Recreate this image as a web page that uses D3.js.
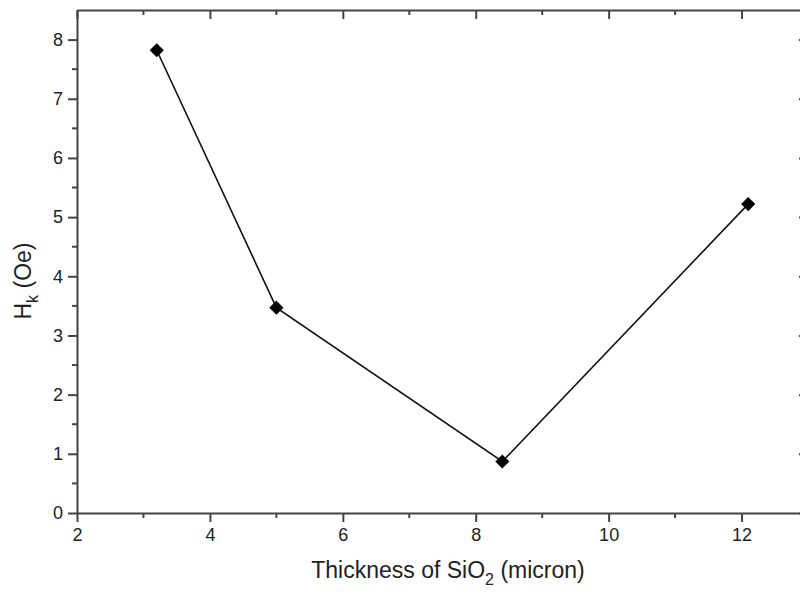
<!doctype html>
<html>
<head>
<meta charset="utf-8">
<script src="https://d3js.org/d3.v7.min.js"></script>
<style>
  body { margin: 0; background: #fff; }
  text { font-family: "Liberation Sans", Arial, sans-serif; fill: #222; }
  .axis path.domain { stroke: #444; stroke-width: 2; }
  .axis line { stroke: #444; stroke-width: 2; }
</style>
</head>
<body>
<svg width="800" height="592"></svg>
<script>
// data
var thickness = [3.2, 5.0, 8.4, 12.1];
var hk = [7.82, 3.47, 0.87, 5.22];
var xTicks = [2, 4, 6, 8, 10, 12];
var yTicks = [0, 1, 2, 3, 4, 5, 6, 7, 8];

var svg = d3.select('svg');
var mLeft = 77, mRight = 808, mTop = 10, mBottom = 513;

var x = d3.scaleLinear().domain([2, 13]).range([mLeft, mRight]);
var y = d3.scaleLinear().domain([0, 8.5]).range([mBottom, mTop]);

var xMinor = d3.range(3, 13, 2);
var yMinor = d3.range(0.5, 8.5, 1);

// minor ticks
function minorX(g, yPos, len) {
  g.selectAll(null).data(xMinor).enter().append('line')
    .attr('x1', d => x(d)).attr('x2', d => x(d))
    .attr('y1', yPos).attr('y2', yPos + len)
    .attr('stroke', '#444').attr('stroke-width', 2);
}
function minorY(g, xPos, len) {
  g.selectAll(null).data(yMinor).enter().append('line')
    .attr('y1', d => y(d)).attr('y2', d => y(d))
    .attr('x1', xPos).attr('x2', xPos + len)
    .attr('stroke', '#444').attr('stroke-width', 2);
}

// bottom axis
svg.append('g').attr('class', 'axis')
  .attr('transform', 'translate(0,' + mBottom + ')')
  .call(d3.axisBottom(x).tickValues(xTicks).tickSize(9).tickSizeOuter(0).tickPadding(6))
  .attr('font-size', 18).attr('font-family', null);
minorX(svg.append('g'), mBottom, 5);

// top axis (ticks inward)
svg.append('g').attr('class', 'axis')
  .attr('transform', 'translate(0,' + mTop + ')')
  .call(d3.axisTop(x).tickValues(xTicks).tickSize(-9).tickSizeOuter(0).tickFormat(''));
minorX(svg.append('g'), mTop, 5);

// left axis
svg.append('g').attr('class', 'axis')
  .attr('transform', 'translate(' + mLeft + ',0)')
  .call(d3.axisLeft(y).tickValues(yTicks).tickSize(9).tickSizeOuter(0).tickPadding(5))
  .attr('font-size', 18).attr('font-family', null);
minorY(svg.append('g'), mLeft, -5);

// right axis (ticks inward)
svg.append('g').attr('class', 'axis')
  .attr('transform', 'translate(' + mRight + ',0)')
  .call(d3.axisRight(y).tickValues(yTicks).tickSize(-9).tickSizeOuter(0).tickFormat(''));
minorY(svg.append('g'), mRight, -5);

// line
var pts = thickness.map((t, i) => [t, hk[i]]);
svg.append('path').datum(pts)
  .attr('fill', 'none').attr('stroke', '#111').attr('stroke-width', 1.6)
  .attr('d', d3.line().x(d => x(d[0])).y(d => y(d[1])));

// diamond markers
svg.selectAll('.pt').data(pts).enter().append('path')
  .attr('class', 'pt')
  .attr('d', d3.symbol().type(d3.symbolSquare).size(100))
  .attr('transform', d => 'translate(' + x(d[0]) + ',' + y(d[1]) + ') rotate(45)')
  .attr('fill', '#000');

// axis titles
var xt = svg.append('text').attr('x', 448).attr('y', 578)
  .attr('text-anchor', 'middle').style('font-size', '23px');
xt.append('tspan').text('Thickness of SiO');
xt.append('tspan').attr('dy', 7).style('font-size', '16px').text('2');
xt.append('tspan').attr('dy', -7).text(' (micron)');

var yt = svg.append('text').attr('transform', 'translate(31,281) rotate(-90)')
  .attr('text-anchor', 'middle').style('font-size', '23px');
yt.append('tspan').text('H');
yt.append('tspan').attr('dy', 7).style('font-size', '16px').text('k');
yt.append('tspan').attr('dy', -7).text(' (Oe)');
</script>
</body>
</html>
